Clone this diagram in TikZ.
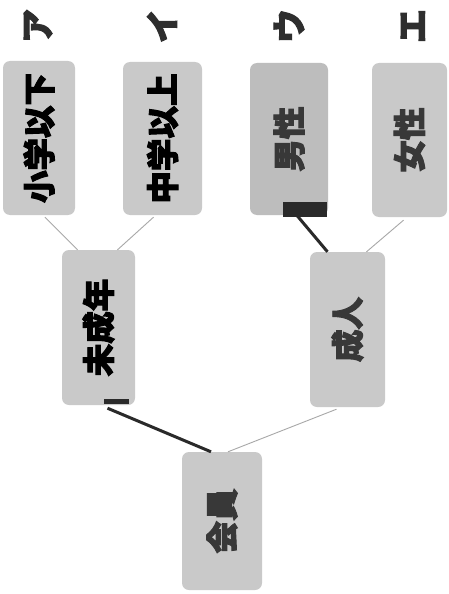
\documentclass[tikz,border=0pt]{standalone}
\usepackage{graphicx}
\usepackage{fontspec}
\newfontfamily\cjk{Noto Sans CJK JP}[FakeBold=3]
\newcommand\vtxt[1]{\rotatebox[origin=c]{90}{#1}}
\begin{document}
\begin{tikzpicture}[x=1pt,y=-1pt,
  box/.style={draw=none,fill=boxgray,rounded corners=7pt,inner sep=0pt,
    font=\cjk\bfseries\fontsize{32.5}{33}\selectfont},
  darktext/.style={text=black},
  greytext/.style={text=txtgray},
  lab/.style={inner sep=0pt,font=\cjk\bfseries\fontsize{34}{34}\selectfont,text=labgray},
  thin/.style={draw=linegray,line width=0.9pt},
  thick/.style={draw=thickgray,line width=3pt}]
\definecolor{boxgray}{HTML}{C9C9C9}
\definecolor{boxdark}{HTML}{BDBDBD}
\definecolor{txtgray}{HTML}{383838}
\definecolor{labgray}{HTML}{2E2E2E}
\definecolor{linegray}{HTML}{A8A8A8}
\definecolor{thickgray}{HTML}{2A2A2A}
\useasboundingbox[fill=white] (0,0) rectangle (448,594);

% labels
\node[lab] (la) at (38,26) {\vtxt{ア}};
\node[lab] (li) at (162,26) {\vtxt{イ}};
\node[lab] (lu) at (289,26) {\vtxt{ウ}};
\node[lab] (le) at (413,26) {\vtxt{エ}};

% boxes
\node[box,darktext,minimum width=72pt,minimum height=154pt] (A) at (39,138) {\vtxt{小学以下}};
\node[box,darktext,minimum width=79pt,minimum height=153pt] (B) at (162.5,138.5) {\vtxt{中学以上}};
\node[box,greytext,fill=boxdark,minimum width=78pt,minimum height=152pt] (C) at (289,139) {\vtxt{男性}};
\node[box,greytext,minimum width=75pt,minimum height=154pt] (D) at (409.5,140) {\vtxt{女性}};
\node[box,darktext,minimum width=73pt,minimum height=155pt] (E) at (98.5,327.5) {\vtxt{未成年}};
\node[box,greytext,minimum width=75pt,minimum height=155pt] (F) at (347.5,329.5) {\vtxt{成人}};
\node[box,greytext,minimum width=80pt,minimum height=138pt] (G) at (222,521) {\vtxt{会員}};

% connectors
\draw[thin] ([xshift=6pt,yshift=-2pt]A.south) -- ([xshift=-21pt]E.north);
\draw[thin] ([xshift=-9pt,yshift=-2pt]B.south) -- ([xshift=19pt]E.north);
\fill[thickgray] ([xshift=-6pt,yshift=13pt]C.south) rectangle ([xshift=38pt,yshift=-2pt]C.south);
\draw[thick] ([xshift=1pt,yshift=8pt]C.south) -- ([xshift=-20pt]F.north);
\draw[thin] ([xshift=-6pt,yshift=-3pt]D.south) -- ([xshift=19pt]F.north);
\fill[thickgray] ([xshift=5pt,yshift=1pt]E.south) rectangle ([xshift=30pt,yshift=6pt]E.south);
\draw[thick] ([xshift=9pt,yshift=-3pt]E.south) -- ([xshift=-11pt]G.north);
\draw[thin] ([xshift=-11pt,yshift=-2pt]F.south) -- ([xshift=6pt]G.north);
\end{tikzpicture}
\end{document}
